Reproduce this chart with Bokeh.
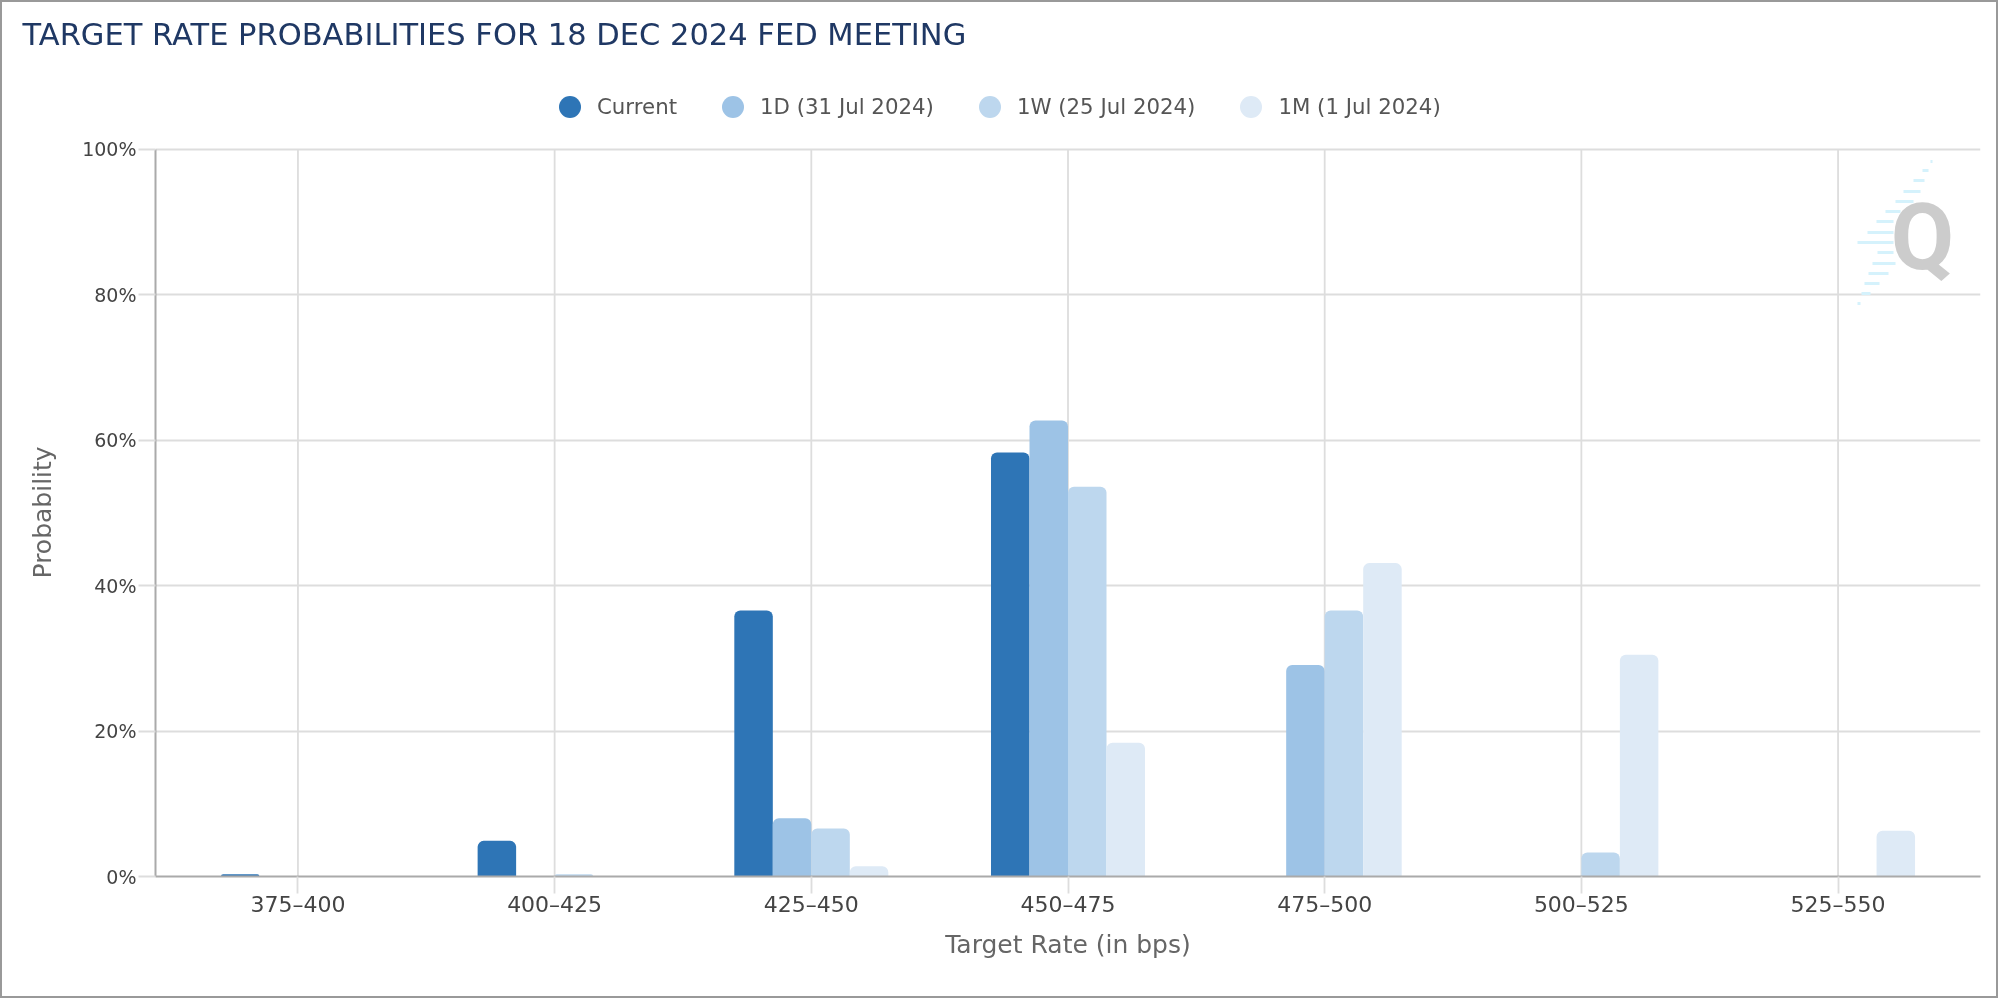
from bokeh.embed import file_html
from bokeh.models import BoxAnnotation, ColumnDataSource, FactorRange, FixedTicker, Label, Legend, LegendItem, PrintfTickFormatter, Range1d, Title
from bokeh.plotting import figure
from bokeh.resources import INLINE
from bokeh.transform import dodge

rates = ["375–400", "400–425", "425–450", "450–475", "475–500", "500–525", "525–550"]
current = [0.3, 4.9, 36.6, 58.3, 0, 0, 0]
one_day = [0, 0, 8.0, 62.7, 29.1, 0, 0]
one_week = [0, 0.3, 6.6, 53.6, 36.6, 3.3, 0]
one_month = [0, 0, 1.4, 18.4, 43.1, 30.5, 6.3]
y_ticks = [0, 20, 40, 60, 80, 100]

series = [
    ("current", "Current", "#2e75b6", -0.225),
    ("one_day", "1D (31 Jul 2024)", "#9dc3e6", -0.075),
    ("one_week", "1W (25 Jul 2024)", "#bdd7ee", 0.075),
    ("one_month", "1M (1 Jul 2024)", "#deeaf6", 0.225),
]

source = ColumnDataSource(dict(rate=rates, current=current, one_day=one_day, one_week=one_week, one_month=one_month))

# figure sits 2px in from the page corner, the grey box is an outline around it
inset = 2

# frame reaches up past 100% so the legend can sit inside it
p = figure(
    width=1994,
    height=994,
    x_range=FactorRange(factors=rates, range_padding=0.0157),
    y_range=Range1d(0, 108.1),
    output_backend="svg",
    toolbar_location=None,
    min_border_left=153,
    min_border_right=16,
    min_border_top=88,
    min_border_bottom=120,
)
p.styles = {"position": "fixed", "left": f"{inset}px", "top": f"{inset}px", "outline": f"{inset}px solid #999999"}

p.title.text = "TARGET RATE PROBABILITIES FOR 18 DEC 2024 FED MEETING"
p.title.text_color = "#1f3864"
p.title.text_font = "DejaVu Sans"
p.title.text_font_size = "30.5px"
p.title.text_font_style = "normal"
p.title.offset = -133
p.title.standoff = 0
p.outline_line_color = None
# blank panel between the title and the frame pushes the title up
p.add_layout(Title(text=" ", text_font_size="33px", standoff=0), "above")

# vertical grid stops at 100%
p.xgrid.visible = False
p.segment(x0=rates, y0=[y_ticks[0]] * len(rates), x1=rates, y1=[y_ticks[-1]] * len(rates),
          line_color="#dddddd", line_width=1.8, level="underlay")

# bars
items = []
for key, label, color, offset in series:
    p.vbar(x=dodge("rate", offset, range=p.x_range), top=key, width=0.15, bottom=0, source=source,
           fill_color=color, line_color=None, border_radius=(6, 6, 0, 0))
    dot = p.scatter(x=rates[:1], y=[float("nan")], marker="circle", size=22, fill_color=color, line_color=None)
    items.append(LegendItem(label=label, renderers=[dot]))

# legend dots are 0.4 of the glyph box
legend = Legend(items=items, orientation="horizontal", location=(387, 742))
legend.border_line_color = None
legend.background_fill_alpha = 0
legend.label_text_font = "DejaVu Sans"
legend.label_text_font_size = "21.3px"
legend.label_text_color = "#555555"
legend.glyph_width = 55
legend.glyph_height = 55
legend.spacing = 28
legend.label_standoff = 0
legend.padding = 0
legend.margin = 0
p.add_layout(legend, "center")

p.ygrid.grid_line_color = "#dddddd"
p.ygrid.grid_line_width = 1.8
p.ygrid.ticker = FixedTicker(ticks=y_ticks)

p.xaxis.axis_label = "Target Rate (in bps)"
p.yaxis.ticker = FixedTicker(ticks=y_ticks)
p.yaxis.formatter = PrintfTickFormatter(format="%d%%")
p.yaxis.bounds = (y_ticks[0], y_ticks[-1])
for ax in [p.xaxis[0], p.yaxis[0]]:
    ax.axis_line_color = "#aaaaaa"
    ax.axis_line_width = 2
    ax.major_tick_line_color = "#dddddd"
    ax.major_tick_line_width = 1.8
    ax.major_tick_out = 17
    ax.major_tick_in = 0
    ax.minor_tick_line_color = None
    ax.major_label_text_font = "DejaVu Sans"
    ax.major_label_text_font_size = "19px"
    ax.major_label_text_color = "#444444"
    ax.major_label_standoff = 2
    ax.axis_label_text_font = "DejaVu Sans"
    ax.axis_label_text_font_size = "25px"
    ax.axis_label_text_font_style = "normal"
    ax.axis_label_text_color = "#666666"
p.xaxis.major_label_text_font_size = "22px"
p.xaxis.major_label_standoff = -2
p.xaxis.axis_label_standoff = 10

# an axis label would centre on the taller frame, a side title can be offset
p.add_layout(Title(text="Probability", align="left", offset=298, standoff=46, text_font="DejaVu Sans",
                   text_font_size="25px", text_font_style="normal", text_color="#666666"), "left")

# watermark
stripes = [
    (1930, 1932, 161), (1922, 1928, 170), (1913, 1924, 180), (1903, 1920, 191), (1895, 1913, 201),
    (1885, 1900, 211), (1876, 1893, 221), (1867, 1893, 232), (1857, 1893, 242), (1877, 1893, 252),
    (1872, 1895, 263), (1868, 1888, 273), (1864, 1879, 283), (1861, 1870, 293), (1857, 1860, 303),
]
for left, right, y in stripes:
    p.add_layout(BoxAnnotation(left=left - inset, right=right - inset, top=y - inset - 1.5, bottom=y - inset + 1.5,
                               left_units="canvas", right_units="canvas", top_units="canvas", bottom_units="canvas",
                               fill_color="#d5f2fc", fill_alpha=1, line_color=None))
p.add_layout(Label(x=1922 - inset, y=237 - inset, text="Q", x_units="canvas", y_units="canvas",
                   text_font="Roboto", text_font_style="bold", text_font_size="92px", text_color="#cccccc",
                   text_align="center", text_baseline="middle"))

open("out.html", "w").write(file_html(p, INLINE))
